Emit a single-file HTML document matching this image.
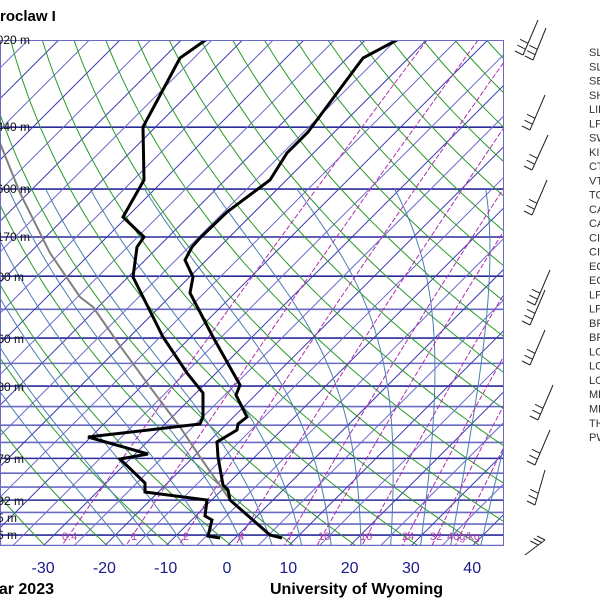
<!DOCTYPE html>
<html><head><meta charset="utf-8"><style>
html,body{margin:0;padding:0;background:#fff;}
svg{display:block;font-family:"Liberation Sans",sans-serif;}
</style></head><body>
<svg id="s" width="600" height="600" viewBox="0 0 600 600" xmlns="http://www.w3.org/2000/svg">
<defs><clipPath id="c"><rect x="0" y="40" width="504" height="506"/></clipPath></defs>
<g id="grid" clip-path="url(#c)"></g>
<g id="lab"></g>
</svg>
<script>
var NS="http://www.w3.org/2000/svg";
var g=document.getElementById('grid'), lab=document.getElementById('lab'), svg=document.getElementById('s');
function Y(p){return 40+215*Math.log(p/100);}
function X(T,p){return 227+6.13*T+(546-Y(p));}
function el(par,n,a,t){var e=document.createElementNS(NS,n);for(var k in a)e.setAttribute(k,a[k]);if(t!==undefined)e.textContent=t;par.appendChild(e);return e;}
function poly(par,pts,st,w,dash){var d=pts.map(function(q){return q[0].toFixed(1)+','+q[1].toFixed(1)}).join(' ');var a={points:d,fill:'none',stroke:st,'stroke-width':w};if(dash)a['stroke-dasharray']=dash;el(par,'polyline',a);}
var P=[100,150,200];for(var p=250;p<=1050;p+=50)P.push(p);
var mand={100:1,150:1,200:1,250:1,300:1,400:1,500:1,700:1,850:1,925:1,1000:1};
P.forEach(function(p){el(g,'line',{x1:0,x2:504,y1:Y(p),y2:Y(p),stroke:mand[p]?'#2a2a9a':'#6a6ac4','stroke-width':1.6});});
for(var T=-160;T<=50;T+=5){el(g,'line',{x1:X(T,1050),y1:Y(1050),x2:X(T,100),y2:Y(100),stroke:(T%10==0)?'#3a3ab0':'#6a6ad0','stroke-width':1});}
for(var th=230;th<=480;th+=10){var pts=[];for(var p=100;p<=1050;p+=10){pts.push([X(th*Math.pow(p/1000,0.286)-273.15,p),Y(p)]);}poly(g,pts,'#2a9a2a',1);}
function es(T){return 6.112*Math.exp(17.67*(T-273.15)/(T-29.65));}
for(var T0=-20;T0<=44;T0+=5){var T=T0+273.15,pts=[];var p=1000;
 var Td=T;for(var pp=1000;pp<1050;pp+=5){var r=0.622*es(Td)/(pp-es(Td));var dT=(287*Td+2.5e6*r)/(pp*(1004+2.5e6*2.5e6*r*0.622/(287*Td*Td)));Td+=dT*5;}
 T=Td;for(p=1050;p>=200;p-=5){pts.push([X(T-273.15,p),Y(p)]);var r=0.622*es(T)/(p-es(T));var dT=(287*T+2.5e6*r)/(p*(1004+2.5e6*2.5e6*r*0.622/(287*T*T)));T-=dT*5;}
 poly(g,pts,'#4a7fb0',1);}
[0.4,1,2,4,7,10,16,24,32,40].forEach(function(w){var pts=[];for(var p=100;p<=1050;p+=25){var e=w*p/(622+w),l=Math.log(e/6.112);var Td=243.5*l/(17.67-l);pts.push([X(Td,p),Y(p)]);}poly(g,pts,'#b02cb0',1,'5,2');});
[[0.4,62],[1,131],[2,183],[4,238],[7,287],[10,318],[16,360],[24,402],[32,430],['40g/kg',447]].forEach(function(a){el(g,'text',{x:a[1],y:540,fill:'#b040b0','font-size':11},String(a[0]));});
poly(g,[[282,537],[270,535],[230,500],[200,457],[180,427],[150,387],[123,350],[93,307],[80,297],[50,253],[20,193],[0,143]],'#808080',2);
poly(g,[[207,39],[180,58],[143,127],[144,180],[123,217],[144,237],[137,247],[133,277],[143,297],[163,337],[187,373],[203,393],[203,417],[200,424],[88,437],[148,454],[120,459],[145,483],[145,492],[207,500],[205,516],[212,520],[208,536],[220,538]],'#000',3);
poly(g,[[397,40],[363,58],[308,132],[287,153],[270,180],[227,212],[200,238],[192,247],[185,260],[193,277],[190,293],[213,337],[240,385],[236,395],[247,417],[238,424],[237,430],[217,442],[218,457],[223,485],[228,490],[230,500],[270,535],[282,538]],'#000',3);
el(g,'rect',{x:0,y:40,width:504,height:506,fill:'none',stroke:'#6a6ac4','stroke-width':2});
[[40,'16020 m',30],[127,'13440 m',30],[189,'11600 m',30],[237,'10170 m',30],[277,'9400 m',24],[339,'7260 m',24],[387,'5580 m',24],[459,'3079 m',24],[501,'1492 m',24],[518,'765 m',17],[535,'106 m',17]].forEach(function(a){el(lab,'text',{x:a[2],y:a[0]+4,'text-anchor':'end','font-size':12,fill:'#111'},a[1]);});
[-30,-20,-10,0,10,20,30,40].forEach(function(t){el(lab,'text',{x:227+6.13*t,y:573,'text-anchor':'middle','font-size':16,fill:'#1a1a8c'},String(t));});
el(lab,'text',{x:0,y:21,'font-size':15,'font-weight':'bold'},'roclaw I');
el(lab,'text',{x:54,y:594,'text-anchor':'end','font-size':16,'font-weight':'bold'},'00Z 01 Mar 2023');
el(lab,'text',{x:270,y:594,'font-size':16,'font-weight':'bold'},'University of Wyoming');
['SLAT','SLON','SELV','SHOW','LIFT','LFTV','SWEA','KINX','CTOT','VTOT','TOTL','CAPE','CAPV','CINS','CINV','EQLV','EQTV','LFCT','LFCV','BRCH','BRCV','LCLT','LCLP','LCLT','MLTH','MLMR','THTK','PWAT'].forEach(function(s,i){el(lab,'text',{x:589,y:56+i*14.26,'font-size':11,fill:'#333'},s);});
var B=[[[538,20],[523,55]],[[546,28],[533,60]],[[545,95],[530,130]],[[548,135],[532,170]],[[547,180],[532,215]],[[550,270],[535,305]],[[545,290],[530,325]],[[545,330],[530,365]],[[553,385],[538,420]],[[550,430],[535,465]],[[545,470],[535,505]],[[525,555],[545,540]]];
B.forEach(function(b){el(lab,'line',{x1:b[0][0],y1:b[0][1],x2:b[1][0],y2:b[1][1],stroke:'#222','stroke-width':1});for(var k=0;k<3;k++){var t=k/6;var x=b[1][0]+(b[0][0]-b[1][0])*t,y=b[1][1]+(b[0][1]-b[1][1])*t;el(lab,'line',{x1:x,y1:y,x2:x-8,y2:y-4,stroke:'#222','stroke-width':1});}});
</script>
</body></html>
